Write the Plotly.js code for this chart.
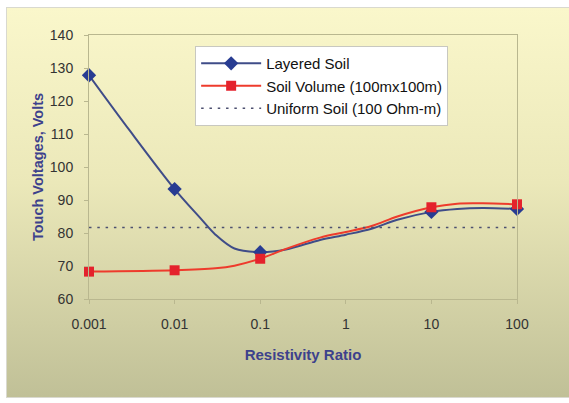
<!DOCTYPE html>
<html>
<head>
<meta charset="utf-8">
<script src="https://cdn.plot.ly/plotly-3.0.1.min.js"></script>
<style>
  html, body { margin: 0; padding: 0; background: #ffffff; width: 569px; height: 403px; overflow: hidden; }
  #frame { position: absolute; left: 6px; top: 7px; width: 562px; height: 389px;
           background: linear-gradient(to bottom, #faf7cb 0%, #ebe8b9 45%, #c0c097 100%);
           border: 1px solid #d9d9cf; }
  #chart { position: absolute; left: 0; top: 0; width: 569px; height: 403px; }
</style>
</head>
<body>
<div id="frame"></div>
<div id="chart"></div>
<script>
// Resistivity ratio (x) and touch voltages (y)
const layeredX = [0.001, 0.003, 0.01, 0.02, 0.03, 0.05, 0.1, 0.2, 0.5, 1, 2, 4, 10, 20, 40, 100];
const layeredY = [127.8, 111.0, 93.3, 84.5, 79.5, 75.3, 74.2, 75.0, 77.9, 79.5, 81.3, 84.0, 86.4, 87.3, 87.6, 87.3];

const volumeX = [0.001, 0.01, 0.03, 0.05, 0.1, 0.2, 0.5, 1, 2, 4, 10, 20, 40, 100];
const volumeY = [68.3, 68.7, 69.3, 70.1, 72.2, 75.2, 78.6, 80.3, 82.1, 85.0, 87.8, 88.9, 89.0, 88.7];

// points that carry a marker in the original
const markedX = [0.001, 0.01, 0.1, 10, 100];

const uniformX = [0.001, 100];
const uniformY = [81.7, 81.7];

const xTickVals = [0.001, 0.01, 0.1, 1, 10, 100];
const xTickText = ['0.001', '0.01', '0.1', '1', '10', '100'];

const seriesNames = ['Layered Soil', 'Soil Volume (100mx100m)', 'Uniform Soil (100 Ohm-m)'];

function markerColors(xs, col) {
  return xs.map(v => markedX.some(m => Math.abs(m - v) < 1e-12) ? col : 'rgba(0,0,0,0)');
}

const font = 'Liberation Sans, Arial, sans-serif';

const traces = [
  {
    x: layeredX, y: layeredY, name: seriesNames[0], type: 'scatter', mode: 'lines+markers',
    cliponaxis: false,
    line: { color: '#3f4c88', width: 2, shape: 'spline', smoothing: 0.9 },
    marker: { symbol: 'diamond', size: 11, color: markerColors(layeredX, '#283c92'), line: { width: 0 } }
  },
  {
    x: volumeX, y: volumeY, name: seriesNames[1], type: 'scatter', mode: 'lines+markers',
    cliponaxis: false,
    line: { color: '#ee3b2c', width: 2, shape: 'spline', smoothing: 0.9 },
    marker: { symbol: 'square', size: 10, color: markerColors(volumeX, '#e4222c'), line: { width: 0 } }
  },
  {
    x: uniformX, y: uniformY, name: seriesNames[2], type: 'scatter', mode: 'lines',
    line: { color: '#4d5070', width: 1.5, dash: '2.5px,5.8px' }
  }
];

const layout = {
  width: 569, height: 403,
  margin: { l: 89, r: 52, t: 35, b: 104 },
  paper_bgcolor: 'rgba(0,0,0,0)',
  plot_bgcolor: 'rgba(0,0,0,0)',
  font: { family: font, size: 14, color: '#333333' },
  showlegend: true,
  legend: {
    x: 0.248, y: 0.958, xanchor: 'left', yanchor: 'top',
    bgcolor: '#ffffff', bordercolor: '#c8c8c0', borderwidth: 1,
    font: { family: font, size: 15, color: '#111111' },
    itemwidth: 60, tracegroupgap: 0
  },
  xaxis: {
    type: 'log', range: [-3, 2],
    tickvals: xTickVals, ticktext: xTickText,
    showgrid: false, zeroline: false,
    showline: true, linecolor: '#b9b78f', linewidth: 1, mirror: true,
    ticks: 'outside', ticklen: 4, tickcolor: '#b9b78f',
    ticklabelstandoff: 8,
    tickfont: { family: font, size: 14, color: '#333333' },
    title: { text: 'Resistivity Ratio', font: { family: font, size: 15, color: '#3d418c', weight: 'bold' }, standoff: 18 }
  },
  yaxis: {
    range: [60, 140], dtick: 10,
    showgrid: false, zeroline: false,
    showline: true, linecolor: '#b9b78f', linewidth: 1, mirror: true,
    ticks: 'outside', ticklen: 4, tickcolor: '#b9b78f',
    ticklabelstandoff: 8,
    tickfont: { family: font, size: 14, color: '#333333' },
    title: { text: 'Touch Voltages, Volts', font: { family: font, size: 14.5, color: '#3d418c', weight: 'bold' }, standoff: 2 }
  }
};

Plotly.newPlot('chart', traces, layout, { displayModeBar: false, staticPlot: true });
</script>
</body>
</html>
